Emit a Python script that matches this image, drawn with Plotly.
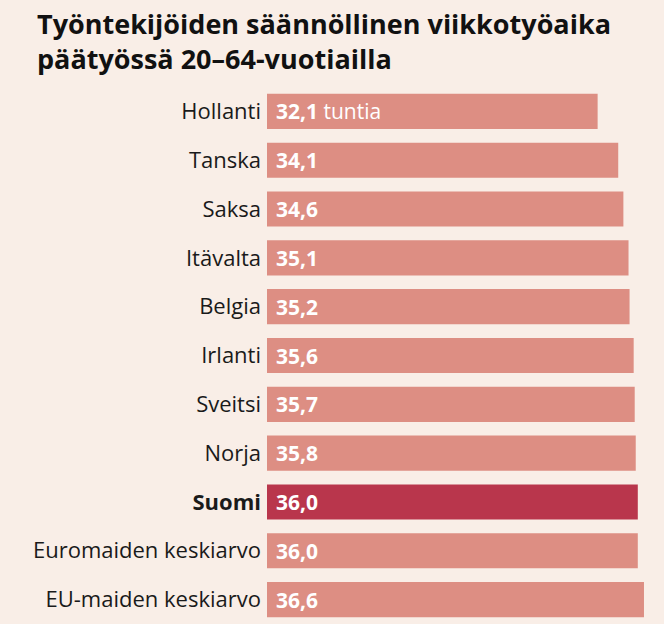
import plotly.graph_objects as go

categories = ["Hollanti", "Tanska", "Saksa", "Itävalta", "Belgia", "Irlanti",
              "Sveitsi", "Norja", "Suomi", "Euromaiden keskiarvo", "EU-maiden keskiarvo"]
values = [32.1, 34.1, 34.6, 35.1, 35.2, 35.6, 35.7, 35.8, 36.0, 36.0, 36.6]
highlight = "Suomi"
unit = "tuntia"
title_lines = ["Työntekijöiden säännöllinen viikkotyöaika", "päätyössä 20–64-vuotiailla"]

BG = "#f9eee7"
BAR = "#dd8e83"
BAR_HI = "#b9364c"
FONT = "Open Sans"

W, H = 664, 624
ML, MT = 267, 87
PW, PH = W - ML, H - MT

colors = [BAR_HI if c == highlight else BAR for c in categories]
ticktext = [f"<b>{c}</b>" if c == highlight else c for c in categories]

fig = go.Figure(go.Bar(
    x=values, y=categories, orientation="h",
    marker=dict(color=colors, line=dict(width=0)),
    width=0.72, hoverinfo="skip",
))

for i, (c, v) in enumerate(zip(categories, values)):
    s = f"{v:.1f}".replace(".", ",")
    txt = f"<b>{s}</b>" + (f" {unit}" if i == 0 else "")
    fig.add_annotation(x=0, y=c, xref="x", yref="y", text=txt, showarrow=False,
                       xanchor="left", yanchor="middle", xshift=7,
                       font=dict(family=FONT, size=21, color="white"))

fig.add_annotation(
    text="<b>" + "<br>".join(title_lines) + "</b>",
    xref="paper", yref="paper", x=(35 - ML) / PW, y=1 + (MT - 3) / PH,
    xanchor="left", yanchor="top", align="left", showarrow=False,
    font=dict(family=FONT, size=27, color="#111111"),
)

fig.update_layout(
    width=W, height=H,
    paper_bgcolor=BG, plot_bgcolor=BG,
    margin=dict(l=ML, r=0, t=MT, b=0),
    showlegend=False,
    xaxis=dict(range=[0, PW / 10.3], visible=False, fixedrange=True),
    yaxis=dict(autorange="reversed", tickmode="array", tickvals=categories,
               ticktext=ticktext, showgrid=False, zeroline=False, showline=False,
               ticks="", ticklabelstandoff=5,
               tickfont=dict(family=FONT, size=22, color="#1a1a1a")),
)

fig.write_html("out.html")
